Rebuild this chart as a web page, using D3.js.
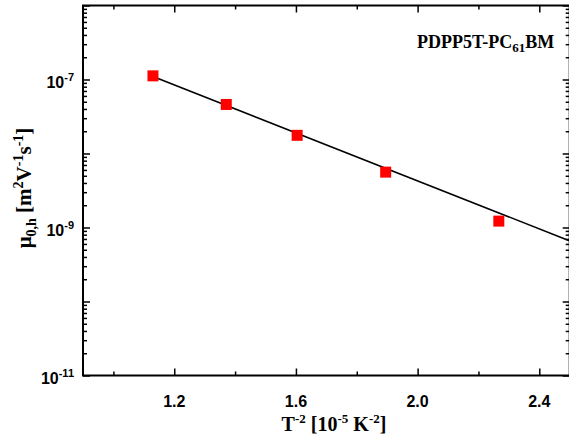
<!DOCTYPE html>
<html><head><meta charset="utf-8">
<script src="https://cdn.jsdelivr.net/npm/d3@7"></script>
<style>body{margin:0;background:#fff}svg{display:block}</style>
</head><body>
<svg id="c" width="569" height="443"></svg>
<script>
const tSq = [1.130, 1.371, 1.604, 1.895, 2.267];
const mobility = [1.12e-7, 4.6e-8, 1.76e-8, 5.6e-9, 1.22e-9];
const fitX = [1.13, 2.5];
const fitY = [1.1e-7, 6.6e-10];
const xMajor = [1.2, 1.6, 2.0, 2.4];
const xMinor = [1.0, 1.4, 1.8, 2.2];
const yLabelExp = [-7, -9, -11];
const sampleLabel = "PDPP5T-PC";

const svg = d3.select("#c");
const L = 83, R = 569.7, T = 5.5, B = 375.5;
const x = d3.scaleLinear().domain([0.9, 2.5]).range([L, R]);
const y = d3.scaleLog().domain([1e-11, 1e-6]).range([B, T]);

const decades = d3.range(-11, -5).map(e => Math.pow(10, e));
const yMinor = [];
d3.range(-11, -6).forEach(e => { for (let k = 2; k <= 9; k++) yMinor.push(k * Math.pow(10, e)); });

const g = svg.append("g");
function ax(axisFn, scale, vals, size, tr) {
  const a = g.append("g").attr("transform", tr)
    .call(axisFn(scale).tickValues(vals).tickSizeInner(-size).tickSizeOuter(0).tickFormat(""));
  a.select(".domain").remove();
  a.selectAll("line").attr("stroke", "#000").attr("stroke-width", 1.5);
  return a;
}
ax(d3.axisBottom, x, xMajor, 7, `translate(0,${B})`);
ax(d3.axisBottom, x, xMinor, 4, `translate(0,${B})`);
ax(d3.axisTop, x, xMajor, 7, `translate(0,${T})`);
ax(d3.axisTop, x, xMinor, 4, `translate(0,${T})`);
ax(d3.axisLeft, y, decades, 7, `translate(${L},0)`);
ax(d3.axisLeft, y, yMinor, 4, `translate(${L},0)`);
ax(d3.axisRight, y, decades, 7, `translate(${R},0)`);
ax(d3.axisRight, y, yMinor, 4, `translate(${R},0)`);

g.append("rect").attr("x", L).attr("y", T).attr("width", R - L).attr("height", B - T)
  .attr("fill", "none").attr("stroke", "#000").attr("stroke-width", 2);

const sans = "'Liberation Sans', Arial, sans-serif";
const serif = "'Liberation Serif', 'Times New Roman', serif";
g.selectAll(".xl").data(xMajor).join("text")
  .attr("x", d => x(d)).attr("y", 407).attr("text-anchor", "middle")
  .attr("font-family", sans).attr("font-weight", "bold").attr("font-size", 16)
  .text(d => d.toFixed(1));
const yl = g.selectAll(".yl").data(yLabelExp).join("text")
  .attr("x", 74).attr("y", d => y(Math.pow(10, d)) + 8).attr("text-anchor", "end")
  .attr("font-family", sans).attr("font-weight", "bold").attr("font-size", 16);
yl.append("tspan").text("10");
yl.append("tspan").attr("dy", -7).attr("font-size", 11).text(d => String(d));

const line = d3.line().x(d => x(d[0])).y(d => y(d[1]));
g.append("path").datum(fitX.map((v, i) => [v, fitY[i]])).attr("d", line)
  .attr("fill", "none").attr("stroke", "#000").attr("stroke-width", 1.6);

const s = 11;
g.selectAll(".pt").data(tSq.map((v, i) => [v, mobility[i]])).join("rect")
  .attr("x", d => x(d[0]) - s / 2).attr("y", d => y(d[1]) - s / 2)
  .attr("width", s).attr("height", s).attr("fill", "#ff0000");

const an = g.append("text").attr("x", 417).attr("y", 48)
  .attr("font-family", serif).attr("font-weight", "bold").attr("font-size", 18);
an.append("tspan").text(sampleLabel);
an.append("tspan").attr("dy", 4).attr("font-size", 13).text("61");
an.append("tspan").attr("dy", -4).text("BM");

const xt = g.append("text").attr("x", 334).attr("y", 431).attr("text-anchor", "middle")
  .attr("font-family", serif).attr("font-weight", "bold").attr("font-size", 20);
xt.append("tspan").text("T");
xt.append("tspan").attr("dy", -8).attr("font-size", 13).text("-2");
xt.append("tspan").attr("dy", 8).text(" [10");
xt.append("tspan").attr("dy", -8).attr("font-size", 13).text("-5");
xt.append("tspan").attr("dy", 8).text(" K");
xt.append("tspan").attr("dy", -8).attr("font-size", 13).text("-2");
xt.append("tspan").attr("dy", 8).text("]");

const yt = g.append("text").attr("transform", "translate(31,188) rotate(-90)").attr("text-anchor", "middle")
  .attr("font-family", serif).attr("font-weight", "bold").attr("font-size", 21);
yt.append("tspan").text("μ");
yt.append("tspan").attr("dy", 5).attr("font-size", 14).text("0,h");
yt.append("tspan").attr("dy", -5).text(" [m");
yt.append("tspan").attr("dy", -8).attr("font-size", 14).text("2");
yt.append("tspan").attr("dy", 8).text("V");
yt.append("tspan").attr("dy", -8).attr("font-size", 14).text("-1");
yt.append("tspan").attr("dy", 8).text("s");
yt.append("tspan").attr("dy", -8).attr("font-size", 14).text("-1");
yt.append("tspan").attr("dy", 8).text("]");
</script>
</body></html>
